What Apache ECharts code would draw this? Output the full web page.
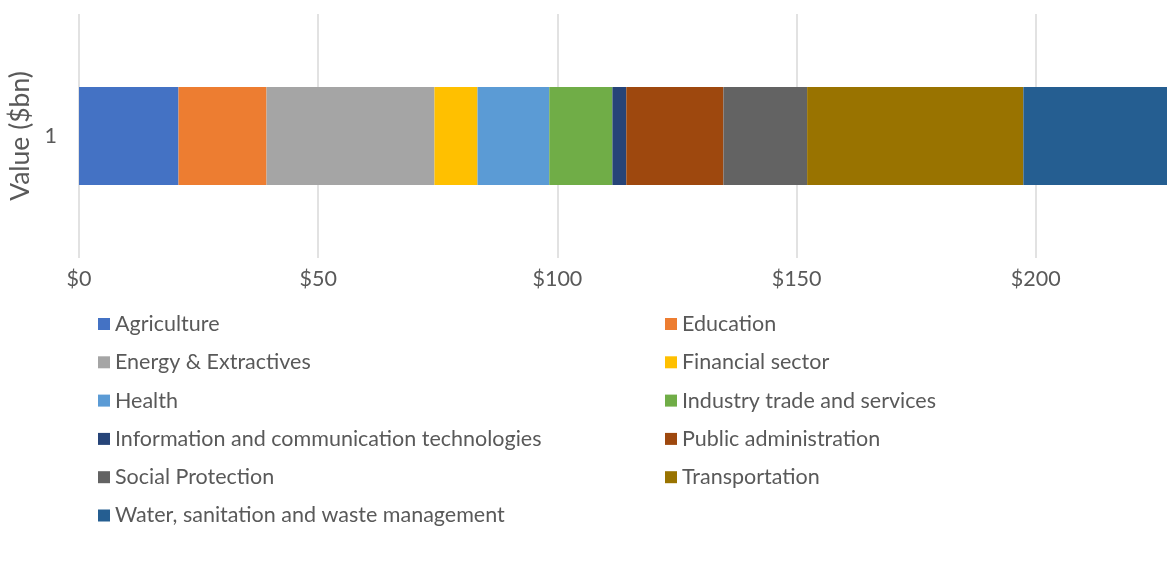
<!DOCTYPE html>
<html>
<head>
<meta charset="utf-8">
<script src="https://cdn.jsdelivr.net/npm/echarts@6/dist/echarts.min.js"></script>
<style>
  html, body { margin: 0; padding: 0; background: #fff; }
  #chart { width: 1167px; height: 574px; }
</style>
</head>
<body>
<div id="chart"></div>
<script>
var categories = ['1'];
var sectors = [
    'Agriculture', 'Education', 'Energy & Extractives', 'Financial sector',
    'Health', 'Industry trade and services', 'Information and communication technologies',
    'Public administration', 'Social Protection', 'Transportation',
    'Water, sanitation and waste management'
];
var values = [20.8, 18.4, 35.1, 9.0, 15.0, 13.2, 2.9, 20.3, 17.5, 45.2, 32.0];
var colors = [
    '#4472C4', '#ED7D31', '#A5A5A5', '#FFC000', '#5B9BD5', '#70AD47',
    '#264478', '#9E480E', '#636363', '#997300', '#255E91'
];
var tickLabels = ['$0', '$50', '$100', '$150', '$200', '$250'];

var font = 'Lato';
var textColor = '#595959';
var fs = 21.5;

var series = sectors.map(function (name, i) {
    return {
        name: name,
        type: 'bar',
        stack: 'total',
        barWidth: 98,
        itemStyle: {color: colors[i]},
        data: [values[i]]
    };
});

var legendLeft = sectors.filter(function (s, i) { return i % 2 === 0; });
var legendRight = sectors.filter(function (s, i) { return i % 2 === 1; });

var legendBase = {
    orient: 'vertical',
    top: 307,
    itemWidth: 12,
    itemHeight: 12,
    itemGap: 14.3,
    icon: 'rect',
    textStyle: {color: textColor, fontFamily: font, fontSize: fs, lineHeight: 24, padding: [0, 0, 0, 0]}
};

var chart = echarts.init(document.getElementById('chart'));
chart.setOption({
    animation: false,
    grid: {
        left: 79,
        width: 1196,
        top: 14,
        height: 244,
        outerBoundsMode: 'none'
    },
    legend: [
        Object.assign({}, legendBase, {left: 93, data: legendLeft}),
        Object.assign({}, legendBase, {left: 660, data: legendRight})
    ],
    xAxis: {
        type: 'value',
        min: 0,
        max: 250,
        interval: 50,
        axisLine: {show: false},
        axisTick: {show: false},
        splitLine: {lineStyle: {color: '#D9D9D9', width: 1.5}},
        axisLabel: {
            color: textColor,
            fontFamily: font,
            fontSize: fs,
            margin: 10,
            formatter: function (v) { return tickLabels[v / 50]; }
        }
    },
    yAxis: {
        type: 'category',
        data: categories,
        name: 'Value ($bn)',
        nameLocation: 'middle',
        nameGap: 44,
        nameTextStyle: {color: textColor, fontFamily: font, fontSize: 26.5},
        axisLine: {show: false},
        axisTick: {show: false},
        axisLabel: {color: textColor, fontFamily: font, fontSize: fs, margin: 22}
    },
    series: series
});
</script>
</body>
</html>
